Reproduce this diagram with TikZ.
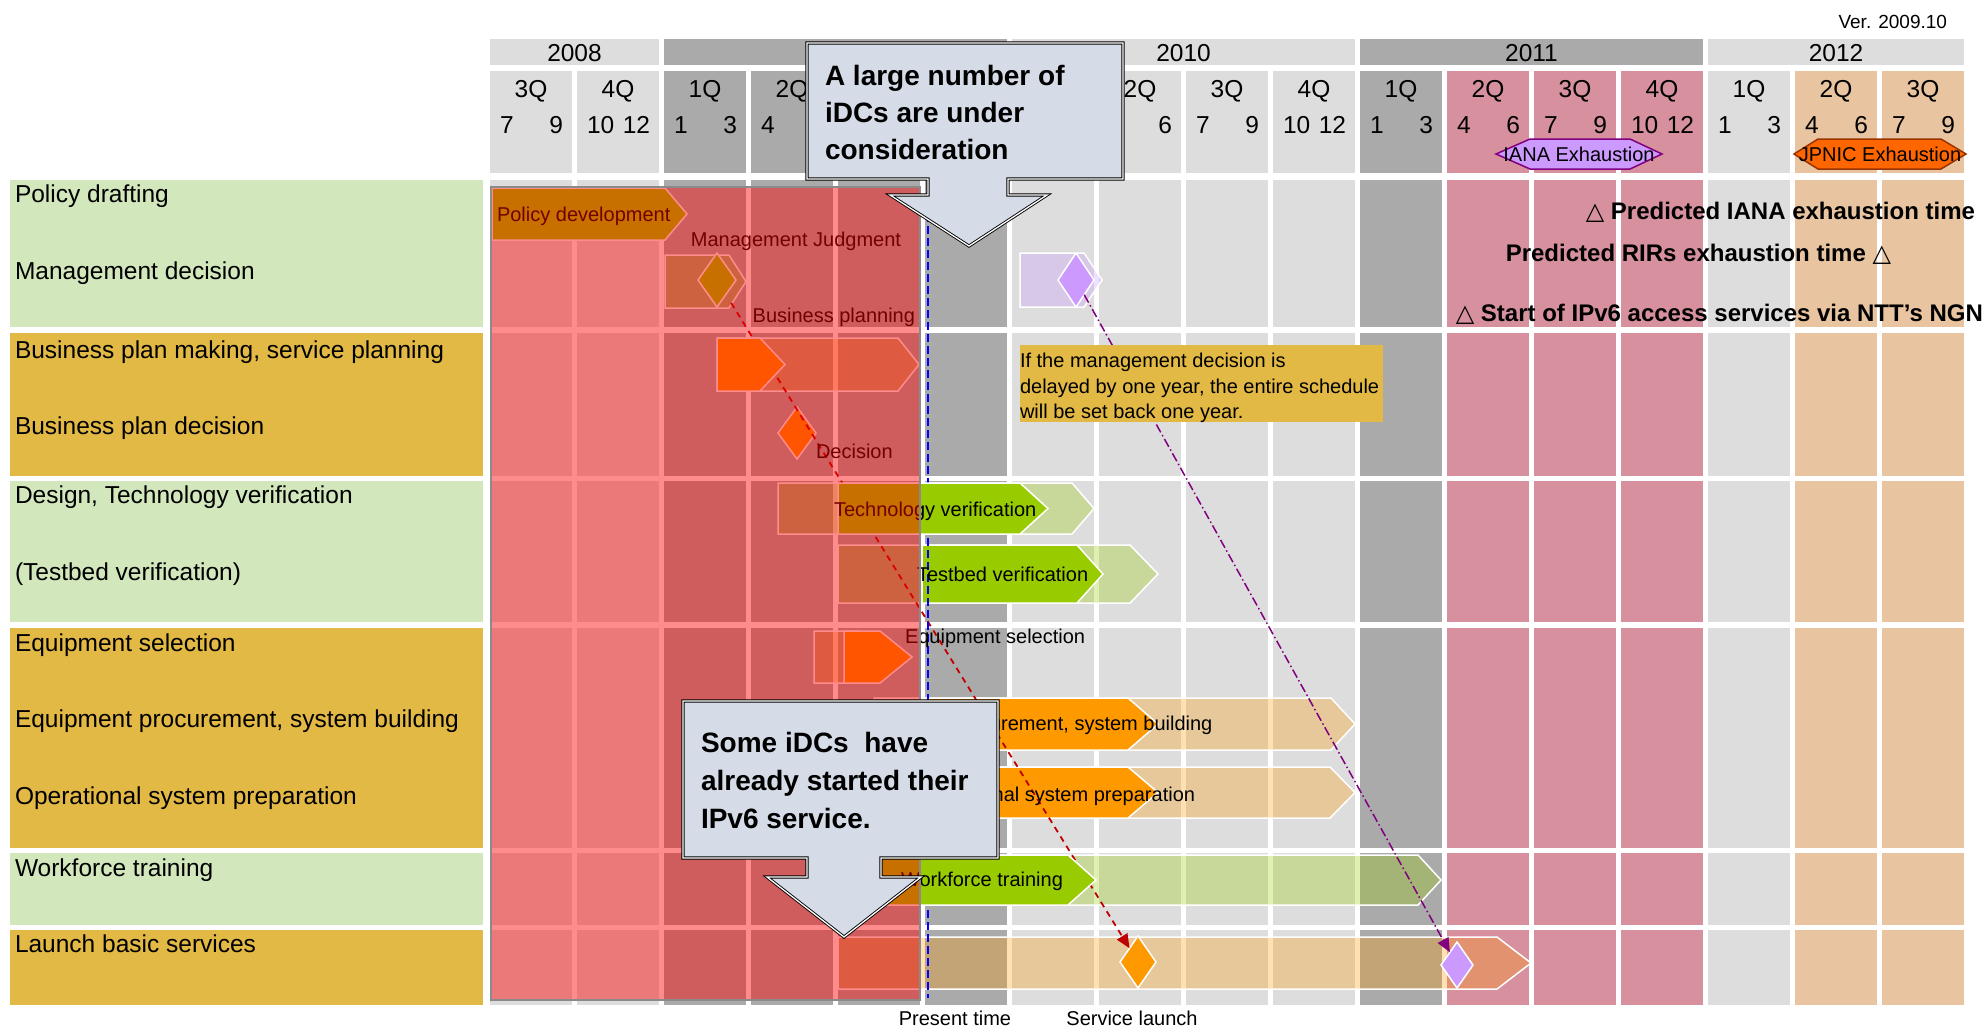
\documentclass[tikz,border=0pt]{standalone}
\usepackage{fontspec}
\setmainfont{Liberation Sans}
\newfontfamily\symfont{DejaVu Sans}
\usetikzlibrary{shapes.geometric,arrows.meta}

\definecolor{cellL}{HTML}{DDDDDD}
\definecolor{cellD}{HTML}{AAAAAA}
\definecolor{cellP}{HTML}{D6909E}
\definecolor{cellE}{HTML}{E8C4A0}
\definecolor{lblG}{HTML}{D3E7BD}
\definecolor{lblO}{HTML}{E2B945}
\definecolor{barGreen}{HTML}{99CC00}
\definecolor{barOrange}{HTML}{FF9900}
\definecolor{barLav}{HTML}{CC99FF}
\definecolor{hexLavEdge}{HTML}{800080}
\definecolor{hexOrg}{HTML}{FF6600}
\definecolor{hexOrgEdge}{HTML}{993300}
\definecolor{calloutFill}{HTML}{D5DCE8}
\definecolor{overlayEdge}{HTML}{8A8A8A}
\definecolor{redLine}{HTML}{C00000}
\definecolor{purpLine}{HTML}{800080}

% pentagon-shaped schedule bar: style, left x, body right x, tip x, top y, bottom y
\newcommand\ganttbar[6]{\path[#1] (#2,#5) -- (#3,#5) -- (#4,{(#5+#6)/2}) -- (#3,#6) -- (#2,#6) -- cycle;}

\begin{document}
\begin{tikzpicture}[x=1pt,y=-1pt,
  txt/.style={inner sep=0pt,outer sep=0pt},
  t24/.style={txt,font=\fontsize{24.5}{29}\selectfont,text height=17.5pt,text depth=5pt},
  t20/.style={txt,font=\fontsize{20}{24}\selectfont,text height=14.6pt,text depth=4.2pt},
  t19/.style={txt,font=\fontsize{19}{23}\selectfont,text height=14pt,text depth=4pt},
  b24/.style={txt,font=\fontsize{24}{29}\selectfont\bfseries,text height=17.5pt,text depth=5pt},
  b28/.style={txt,font=\fontsize{28}{34}\selectfont\bfseries,text height=20.5pt,text depth=6pt},
  actual/.style={fill=#1,draw=white,line width=1.5pt,line join=miter},
  plan/.style={fill=#1,fill opacity=0.3,draw=white,line width=1.5pt,line join=miter},
  gem/.style={diamond,fill=#1,draw=white,line width=1.5pt,inner sep=0pt,outer sep=0pt},
  callout/.style={fill=calloutFill,draw=black,line width=0.9pt,double=white,double distance=1.3pt,line join=miter},
  tip/.style={-{Triangle[length=14pt,width=12pt]}},
]
\useasboundingbox (0,0) rectangle (1986,1029);
\fill[white] (0,0) rectangle (1986,1029);

% ---------- year bars ----------
\foreach \a/\b/\c/\yr in {0/1/cellL/2008,2/5/cellD/2009,6/9/cellL/2010,10/13/cellD/2011,14/16/cellL/2012}{
  \fill[\c] ({490+87*\a},39) rectangle ({572+87*\b},65);
}
\foreach \a/\b/\yr in {0/1/2008,6/9/2010,10/13/2011,14/16/2012}
  \node[t24] (y\yr) at ({(490+87*\a+572+87*\b)/2},55) {\yr};

% ---------- quarter columns: header cells and body cells ----------
\foreach \i/\c in {0/cellL,1/cellL,2/cellD,3/cellD,4/cellD,5/cellD,6/cellL,7/cellL,8/cellL,9/cellL,
  10/cellD,11/cellP,12/cellP,13/cellP,14/cellL,15/cellE,16/cellE}{
  \pgfmathsetmacro\xl{490+87*\i}
  \pgfmathsetmacro\xr{572+87*\i}
  \fill[\c] (\xl,71) rectangle (\xr,173);
  \foreach \t/\b in {180/327,333/476,481/622,628/848,853/925,930/1005}
    \fill[\c] (\xl,\t) rectangle (\xr,\b);
}
% quarter names
\foreach \i/\q in {0/3Q,1/4Q,2/1Q,3/2Q,7/2Q,8/3Q,9/4Q,10/1Q,11/2Q,12/3Q,13/4Q,14/1Q,15/2Q,16/3Q}
  \node[t24] (q\i) at ({531+87*\i},91) {\q};
% first and last month of each quarter
\foreach \i/\m in {0/7,1/10,2/1,3/4,8/7,9/10,10/1,11/4,12/7,13/10,14/1,15/4,16/7}
  \node[t24,anchor=west] (ma\i) at ({500+87*\i},127) {\m};
\foreach \i/\m in {0/9,1/12,2/3,7/6,8/9,9/12,10/3,11/6,12/9,13/12,14/3,15/6,16/9}
  \node[t24,anchor=east] (mb\i) at ({563+87*\i},127) {\m};

% ---------- task label column ----------
\foreach \t/\b/\c in {180/327/lblG,333/476/lblO,481/622/lblG,628/848/lblO,853/925/lblG,930/1005/lblO}
  \fill[\c] (10,\t) rectangle (483,\b);
\node[t24,anchor=west] (l1) at (15,196) {Policy drafting};
\node[t24,anchor=west] (l2) at (15,273) {Management decision};
\node[t24,anchor=west] (l3) at (15,352) {Business plan making, service planning};
\node[t24,anchor=west] (l4) at (15,428) {Business plan decision};
\node[t24,anchor=west] (l5) at (15,497) {Design, Technology verification};
\node[t24,anchor=west] (l6) at (15,574) {(Testbed verification)};
\node[t24,anchor=west] (l7) at (15,645) {Equipment selection};
\node[t24,anchor=west] (l8) at (15,721) {Equipment procurement, system building};
\node[t24,anchor=west] (l9) at (15,798) {Operational system preparation};
\node[t24,anchor=west] (l10) at (15,870) {Workforce training};
\node[t24,anchor=west] (l11) at (15,946) {Launch basic services};

% ---------- planned bars ----------
\ganttbar{plan=barGreen}{665}{729}{746}{255}{308}
\ganttbar{plan=barLav}{1020}{1084}{1102}{253}{307}
\ganttbar{plan=barOrange}{717}{898}{919}{338}{391}
\ganttbar{plan=barGreen}{778}{1072}{1094}{483}{534}
\ganttbar{plan=barGreen}{838}{1130}{1158}{545}{603}
\ganttbar{plan=barOrange}{814}{858}{880}{631}{683}
\ganttbar{plan=barOrange}{874}{1331}{1355}{698}{750}
\ganttbar{plan=barOrange}{874}{1330}{1355}{767}{818}
\ganttbar{plan=barGreen}{838}{1418}{1441}{855}{905}
\ganttbar{plan=barOrange}{838}{1497}{1531}{937}{989}

% ---------- milestones ----------
\node[gem=barGreen,minimum width=38pt,minimum height=54pt] (mj) at (717,280) {};
\node[gem=barLav,minimum width=36pt,minimum height=54pt] (md) at (1076,280) {};
\node[gem=barOrange,minimum width=38pt,minimum height=52pt] (dec) at (797,433) {};
\node[gem=barOrange,minimum width=36pt,minimum height=52pt] (sl) at (1138,962) {};
\node[gem=barLav,minimum width=32pt,minimum height=46pt] (ia) at (1457,965) {};

% ---------- actual bars (procurement, operation) ----------
\ganttbar{actual=barOrange}{925}{1128}{1158}{698}{750}
\ganttbar{actual=barOrange}{925}{1128}{1158}{767}{818}

% ---------- dependency arrows ----------
\draw[redLine,line width=1.8pt,dash pattern=on 6pt off 5pt,tip,shorten <=10pt] (mj) -- (sl);
\draw[purpLine,line width=1.5pt,dash pattern=on 9pt off 3pt on 1.5pt off 3pt,tip] (md) -- (ia);

% ---------- note ----------
\fill[lblO] (1020,345) rectangle (1383,422);
\node[t20,anchor=west] (n1) at (1020,362) {If the management decision is};
\node[t20,anchor=west] (n2) at (1020,388) {delayed by one year, the entire schedule};
\node[t20,anchor=west] (n3) at (1020,413) {will be set back one year.};

% ---------- actual bars ----------
\ganttbar{actual=barGreen}{922}{1077}{1103}{545}{603}
\coordinate (nowTop) at (928,178);
\coordinate (nowBot) at (928,998);
\draw[blue,line width=2pt,dash pattern=on 8pt off 4pt] (nowTop) -- (nowBot);
\ganttbar{actual=barGreen}{492}{665}{687}{188}{240}
\ganttbar{actual=barOrange}{717}{760}{785}{338}{391}
\ganttbar{actual=barGreen}{838}{1020}{1048}{483}{534}
\ganttbar{actual=barOrange}{844}{880}{912}{631}{683}
\ganttbar{actual=barGreen}{838}{1068}{1096}{855}{905}

% ---------- bar captions ----------
\node[t20,anchor=west] (bt1) at (497,216) {Policy development};
\node[t20,anchor=east] (bt2) at (901,241) {Management Judgment};
\node[t20,anchor=east] (bt3) at (915,317) {Business planning};
\node[t20,anchor=west] (bt4) at (816,453) {Decision};
\node[t20,anchor=west] (bt5) at (834,511) {Technology verification};
\node[t20,anchor=west] (bt6) at (917,576) {Testbed verification};
\node[t20,anchor=west] (bt7) at (905,638) {Equipment selection};
\node[t20,anchor=west] (bt8) at (850,725) {Equipment procurement, system building};
\node[t20,anchor=west] (bt9) at (916,796) {Operational system preparation};
\node[t20,anchor=west] (bt10) at (901,881) {Workforce training};

% ---------- elapsed period shading ----------
\filldraw[fill=red,fill opacity=0.45,draw=overlayEdge,line width=2pt] (491,187) rectangle (920,1000);

% ---------- callouts ----------
\draw[callout] (807,43) -- (1123,43) -- (1123,179) -- (1008,179) -- (1008,195) -- (1047,195)
  -- (969,246) -- (890,195) -- (928,195) -- (928,179) -- (807,179) -- cycle;
\node[b28,anchor=west] (ca1) at (825,78) {A large number of};
\node[b28,anchor=west] (ca2) at (825,115) {iDCs are under};
\node[b28,anchor=west] (ca3) at (825,152) {consideration};

\draw[callout] (683,701) -- (998,701) -- (998,858) -- (881,858) -- (881,877) -- (921,877)
  -- (844,937) -- (767,877) -- (807,877) -- (807,858) -- (683,858) -- cycle;
\node[b28,anchor=west] (cb1) at (701,745) {Some iDCs\ \ have};
\node[b28,anchor=west] (cb2) at (701,783) {already started their};
\node[b28,anchor=west] (cb3) at (701,821) {IPv6 service.};

% ---------- exhaustion markers ----------
\filldraw[fill=barLav,draw=hexLavEdge,line width=1.5pt] (1496,154) -- (1530,139) -- (1630,139)
  -- (1662,154) -- (1630,169) -- (1530,169) -- cycle;
\node[t20] (iana) at (1579,156) {IANA Exhaustion};
\filldraw[fill=hexOrg,draw=hexOrgEdge,line width=1.5pt] (1794,154) -- (1818,139) -- (1941,139)
  -- (1966,154) -- (1941,169) -- (1818,169) -- cycle;
\node[t20] (jpnic) at (1880,156) {JPNIC Exhaustion};

\node[b24,anchor=east] (r1) at (1975,213) {{\symfont △} Predicted IANA exhaustion time};
\node[b24,anchor=east] (r2) at (1891,255) {Predicted RIRs exhaustion time {\symfont △}};
\node[b24,anchor=east] (r3) at (1983,315) {{\symfont △} Start of IPv6 access services via NTT’s NGN};

% ---------- misc labels ----------
\node[t19,anchor=east] (ver) at (1947,23) {Ver. 2009.10};
\node[t20] (now) at (955,1020) {Present time};
\node[t20] (launch) at (1132,1020) {Service launch};
\end{tikzpicture}
\end{document}
